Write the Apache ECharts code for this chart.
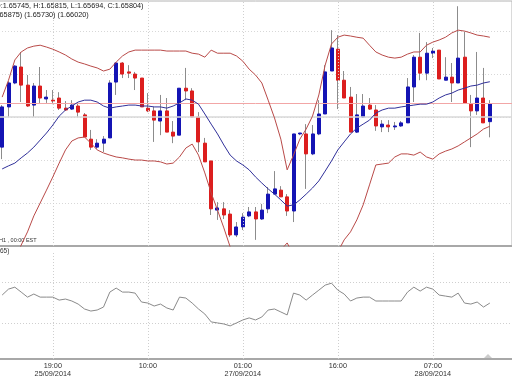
<!DOCTYPE html>
<html><head><meta charset="utf-8">
<script src="https://cdn.jsdelivr.net/npm/echarts@6/dist/echarts.min.js"></script>
<style>html,body{margin:0;padding:0;background:#fff}#c{width:512px;height:376px}</style>
</head><body><div id="c"></div>
<script>
const categories = [
'25/09 11:00','25/09 12:00','25/09 13:00','25/09 14:00','25/09 15:00','25/09 16:00','25/09 17:00','25/09 18:00','25/09 19:00','25/09 20:00','25/09 21:00','25/09 22:00','25/09 23:00',
'26/09 00:00','26/09 01:00','26/09 02:00','26/09 03:00','26/09 04:00','26/09 05:00','26/09 06:00','26/09 07:00','26/09 08:00','26/09 09:00','26/09 10:00','26/09 11:00','26/09 12:00','26/09 13:00','26/09 14:00','26/09 15:00','26/09 16:00','26/09 17:00','26/09 18:00','26/09 19:00','26/09 20:00','26/09 21:00','26/09 22:00','26/09 23:00',
'27/09 00:00','27/09 01:00','27/09 02:00','27/09 03:00','27/09 04:00','27/09 05:00','27/09 06:00','27/09 07:00','27/09 08:00','27/09 09:00','27/09 10:00','27/09 11:00','27/09 12:00','27/09 13:00','27/09 14:00','27/09 15:00','27/09 16:00','27/09 17:00','27/09 18:00','27/09 19:00','27/09 20:00','27/09 21:00','27/09 22:00','27/09 23:00',
'28/09 00:00','28/09 01:00','28/09 02:00','28/09 03:00','28/09 04:00','28/09 05:00','28/09 06:00','28/09 07:00','28/09 08:00','28/09 09:00','28/09 10:00','28/09 11:00','28/09 12:00','28/09 13:00','28/09 14:00','28/09 15:00','28/09 16:00','28/09 17:00','28/09 18:00','28/09 19:00'
];
const openP = [1.65662,1.65793,1.65871,1.65923,1.65864,1.65799,1.65861,1.65819,1.65815,1.65822,1.65789,1.65786,1.65796,1.65767,1.65688,1.65662,1.65675,1.65692,1.65874,1.65936,1.65907,1.65900,1.65887,1.65789,1.65780,1.65747,1.65780,1.65711,1.65701,1.65854,1.65845,1.65760,1.65675,1.65617,1.65457,1.65461,1.65444,1.65376,1.65402,1.65438,1.65451,1.65428,1.65461,1.65509,1.65522,1.65500,1.65454,1.65705,1.65705,1.65640,1.65705,1.65770,1.65910,1.65981,1.65880,1.65825,1.65711,1.65760,1.65799,1.65783,1.65728,1.65734,1.65728,1.65731,1.65741,1.65858,1.65955,1.65903,1.65968,1.65978,1.65880,1.65890,1.65871,1.65955,1.65802,1.65780,1.65822,1.65745];
const closeP = [1.65793,1.65871,1.65926,1.65864,1.65796,1.65861,1.65822,1.65825,1.65812,1.65789,1.65783,1.65799,1.65776,1.65695,1.65662,1.65675,1.65688,1.65871,1.65936,1.65900,1.65903,1.65887,1.65793,1.65780,1.65750,1.65780,1.65711,1.65698,1.65854,1.65845,1.65760,1.65679,1.65614,1.65461,1.65464,1.65441,1.65376,1.65402,1.65434,1.65451,1.65428,1.65457,1.65509,1.65526,1.65500,1.65454,1.65705,1.65708,1.65640,1.65705,1.65770,1.65907,1.65985,1.65880,1.65822,1.65711,1.65767,1.65796,1.65786,1.65731,1.65737,1.65728,1.65731,1.65741,1.65858,1.65955,1.65903,1.65968,1.65975,1.65884,1.65890,1.65871,1.65952,1.65806,1.65780,1.65822,1.65741,1.65804];
const lowP = [1.65623,1.65760,1.65867,1.65809,1.65793,1.65760,1.65806,1.65806,1.65802,1.65783,1.65780,1.65783,1.65760,1.65695,1.65653,1.65656,1.65646,1.65692,1.65832,1.65887,1.65887,1.65848,1.65793,1.65776,1.65679,1.65701,1.65711,1.65675,1.65701,1.65815,1.65760,1.65646,1.65614,1.65441,1.65425,1.65428,1.65369,1.65369,1.65392,1.65434,1.65360,1.65425,1.65447,1.65509,1.65500,1.65438,1.65418,1.65701,1.65526,1.65636,1.65701,1.65770,1.65910,1.65786,1.65822,1.65711,1.65708,1.65757,1.65783,1.65715,1.65711,1.65711,1.65718,1.65728,1.65741,1.65809,1.65880,1.65880,1.65952,1.65884,1.65880,1.65809,1.65871,1.65806,1.65662,1.65767,1.65741,1.65694];
const highP = [1.65799,1.65877,1.65929,1.65972,1.65897,1.65871,1.65923,1.65848,1.65848,1.65841,1.65812,1.65815,1.65806,1.65773,1.65718,1.65688,1.65698,1.65880,1.65939,1.65939,1.65929,1.65907,1.65887,1.65838,1.65793,1.65832,1.65822,1.65747,1.65854,1.65920,1.65854,1.65776,1.65692,1.65617,1.65483,1.65483,1.65457,1.65418,1.65447,1.65467,1.65467,1.65477,1.65532,1.65584,1.65535,1.65509,1.65705,1.65708,1.65737,1.65734,1.65815,1.65929,1.66043,1.66027,1.65910,1.65858,1.65835,1.65835,1.65822,1.65799,1.65750,1.65750,1.65744,1.65747,1.65887,1.65962,1.66034,1.66004,1.65985,1.65978,1.65955,1.65936,1.66121,1.66037,1.65832,1.65972,1.65920,1.65815];
const upperBand = [1.65825,1.65880,1.65946,1.65972,1.65985,1.65991,1.65994,1.65988,1.65981,1.65972,1.65962,1.65949,1.65939,1.65933,1.65926,1.65920,1.65910,1.65916,1.65939,1.65959,1.65972,1.65978,1.65978,1.65978,1.65978,1.65978,1.65975,1.65975,1.65975,1.65975,1.65968,1.65965,1.65955,1.65978,1.65968,1.65968,1.65968,1.65959,1.65942,1.65916,1.65897,1.65871,1.65815,1.65757,1.65688,1.65588,1.65636,1.65688,1.65721,1.65763,1.65832,1.65929,1.65998,1.66020,1.66027,1.66024,1.66020,1.66017,1.65994,1.65972,1.65962,1.65955,1.65952,1.65955,1.65965,1.65972,1.65972,1.65994,1.66004,1.66011,1.66020,1.66034,1.66043,1.66040,1.66034,1.66027,1.66024,1.66020];
const middleBand = [1.65591,1.65601,1.65610,1.65627,1.65643,1.65662,1.65685,1.65708,1.65734,1.65763,1.65783,1.65796,1.65809,1.65815,1.65815,1.65809,1.65796,1.65789,1.65793,1.65796,1.65799,1.65799,1.65796,1.65796,1.65793,1.65793,1.65789,1.65796,1.65806,1.65819,1.65815,1.65802,1.65770,1.65737,1.65705,1.65669,1.65636,1.65617,1.65604,1.65588,1.65565,1.65545,1.65526,1.65509,1.65490,1.65470,1.65474,1.65490,1.65509,1.65529,1.65552,1.65584,1.65617,1.65653,1.65679,1.65705,1.65724,1.65737,1.65750,1.65773,1.65783,1.65789,1.65789,1.65793,1.65796,1.65799,1.65802,1.65802,1.65809,1.65822,1.65832,1.65838,1.65848,1.65854,1.65861,1.65864,1.65871,1.65875];
const lowerBand = [1.65197,1.65246,1.65294,1.65343,1.65386,1.65438,1.65480,1.65522,1.65565,1.65610,1.65653,1.65682,1.65692,1.65695,1.65675,1.65653,1.65643,1.65636,1.65630,1.65627,1.65623,1.65620,1.65620,1.65617,1.65617,1.65614,1.65607,1.65610,1.65630,1.65659,1.65672,1.65636,1.65578,1.65513,1.65457,1.65399,1.65337,1.65301,1.65268,1.65246,1.65236,1.65246,1.65268,1.65294,1.65327,1.65350,1.65311,1.65246,1.65213,1.65197,1.65213,1.65246,1.65294,1.65321,1.65360,1.65386,1.65425,1.65474,1.65539,1.65604,1.65607,1.65610,1.65630,1.65640,1.65640,1.65636,1.65646,1.65630,1.65623,1.65640,1.65649,1.65656,1.65666,1.65679,1.65692,1.65705,1.65721,1.65730];
const rsiValues = [57.3,63.1,65.0,60.2,55.3,58.3,55.3,55.3,55.3,52.4,53.4,51.5,48.5,43.7,41.7,42.7,45.6,60.2,64.1,60.2,60.2,59.2,50.5,49.5,46.6,48.5,44.7,42.7,55.3,54.4,49.5,43.7,38.8,31.1,30.1,29.1,27.2,30.1,33.0,35.0,33.0,35.9,42.7,43.7,40.8,37.9,59.2,57.3,52.4,57.3,62.1,67.0,68.9,62.1,58.3,51.5,54.4,55.3,55.3,51.5,51.5,51.5,51.5,51.5,60.2,65.0,61.2,65.0,63.1,57.3,56.3,55.3,59.2,49.5,48.5,50.5,45.6,49.5];
const tickIndex = [8, 23, 38, 53, 68];
const tickLabels = ['19:00\n25/09/2014', '10:00', '01:00\n27/09/2014', '16:00', '07:00\n28/09/2014'];
const lastClose = 1.65804;
const refLevel = 1.6576;
const rsiLevels = [30, 70];

const ohlc = openP.map((o, i) => [o, closeP[i], lowP[i], highP[i]]);
const bodies = openP.map((o, i) => [o, closeP[i], Math.min(o, closeP[i]), Math.max(o, closeP[i])]);
const FONT = '"Liberation Sans", Arial, sans-serif';
const vLines = tickIndex.map(i => ({ xAxis: categories[i] }));
const dotted = { color: '#cfcfcf', type: [1, 2], width: 1 };
const mlBase = { symbol: ['none', 'none'], silent: true, precision: 6, label: { show: false }, emphasis: { disabled: true } };

const chart = echarts.init(document.getElementById('c'), null, { renderer: 'canvas' });
chart.setOption({
  animation: false,
  backgroundColor: '#ffffff',
  grid: [
    { left: -1, right: 0, top: 1, height: 245, show: true, borderColor: '#b4b4b4', borderWidth: 1, backgroundColor: 'transparent', containLabel: false, outerBoundsMode: 'none' },
    { left: -1, right: 0, top: 251, height: 108, containLabel: false, outerBoundsMode: 'none' }
  ],
  xAxis: [
    { type: 'category', gridIndex: 0, data: categories, boundaryGap: true,
      axisLine: { show: true, onZero: false, lineStyle: { color: '#a8a8a8', width: 2 } },
      axisTick: { show: false }, axisLabel: { show: false }, splitLine: { show: false } },
    { type: 'category', gridIndex: 1, data: categories, boundaryGap: true,
      axisLine: { show: true, onZero: false, lineStyle: { color: '#a8a8a8', width: 2 } },
      axisTick: { show: false }, splitLine: { show: false },
      axisLabel: { interval: (i) => tickIndex.includes(i),
        formatter: (v, i) => { const k = tickIndex.indexOf(i); return k >= 0 ? tickLabels[k] : ''; },
        fontSize: 7.3, lineHeight: 8, color: '#333', margin: 3, fontFamily: FONT } }
  ],
  yAxis: [
    { type: 'value', gridIndex: 0, min: 1.6534, max: 1.66138, interval: 0.0014,
      axisLine: { show: false }, axisTick: { show: false }, axisLabel: { show: false },
      splitLine: { show: true, lineStyle: { color: '#d8d8d8', type: [1, 2], width: 1 } } },
    { type: 'value', gridIndex: 1, min: -5.1, max: 100.3,
      axisLine: { show: false }, axisTick: { show: false }, axisLabel: { show: false }, splitLine: { show: false } }
  ],
  series: [
    { type: 'candlestick', xAxisIndex: 0, yAxisIndex: 0, data: ohlc, barWidth: 1, z: 3, silent: true,
      itemStyle: { color: '#8c8c8c', color0: '#8c8c8c', borderColor: '#8c8c8c', borderColor0: '#8c8c8c', borderWidth: 1 },
      markLine: Object.assign({}, mlBase, { lineStyle: dotted, data: vLines }) },
    { type: 'candlestick', xAxisIndex: 0, yAxisIndex: 0, data: bodies, barWidth: 3.5, z: 4, silent: true,
      itemStyle: { color: '#1414b4', color0: '#dc1e1e', borderColor: '#1414b4', borderColor0: '#dc1e1e', borderWidth: 1 },
      markLine: Object.assign({}, mlBase, { lineStyle: { color: '#f2a6a6', type: 'solid', width: 1 }, data: [{ yAxis: lastClose }] }) },
    { type: 'line', xAxisIndex: 0, yAxisIndex: 0, data: upperBand, showSymbol: false, z: 5, silent: true,
      lineStyle: { color: '#b94a48', width: 1 },
      markLine: Object.assign({}, mlBase, { lineStyle: { color: '#d9d9d9', type: 'solid', width: 1.5 }, data: [{ yAxis: refLevel }] }) },
    { type: 'line', xAxisIndex: 0, yAxisIndex: 0, data: middleBand, showSymbol: false, z: 5, silent: true,
      lineStyle: { color: '#30309a', width: 1 } },
    { type: 'line', xAxisIndex: 0, yAxisIndex: 0, data: lowerBand, showSymbol: false, z: 5, silent: true,
      lineStyle: { color: '#b94a48', width: 1 } },
    { type: 'line', xAxisIndex: 1, yAxisIndex: 1, data: rsiValues, showSymbol: false, z: 5, silent: true,
      lineStyle: { color: '#8a8a8a', width: 1 },
      markLine: Object.assign({}, mlBase, { lineStyle: dotted, data: vLines.concat(rsiLevels.map(v => ({ yAxis: v }))) }) }
  ],
  graphic: [
    { type: 'text', x: -5, y: 5.5, silent: true, style: { text: 'O:1.65745, H:1.65815, L:1.65694, C:1.65804)', font: '7.3px ' + FONT, fill: '#222', verticalAlign: 'middle', textVerticalAlign: 'middle' } },
    { type: 'text', x: -9, y: 14.5, silent: true, style: { text: '(1.65875) (1.65730) (1.66020)', font: '7.3px ' + FONT, fill: '#222', verticalAlign: 'middle', textVerticalAlign: 'middle' } },
    { type: 'text', x: -1, y: 240, silent: true, style: { text: 'H1 , 00:00 EST', font: '5.5px ' + FONT, fill: '#333', verticalAlign: 'middle', textVerticalAlign: 'middle' } },
    { type: 'text', x: 0, y: 251.5, silent: true, style: { text: '65)', font: '6.5px ' + FONT, fill: '#333', verticalAlign: 'middle', textVerticalAlign: 'middle' } },
    { type: 'polygon', silent: true, shape: { points: [[484, 358], [492, 358], [488, 354]] }, style: { fill: '#cccccc' } }
  ]
});
</script></body></html>
